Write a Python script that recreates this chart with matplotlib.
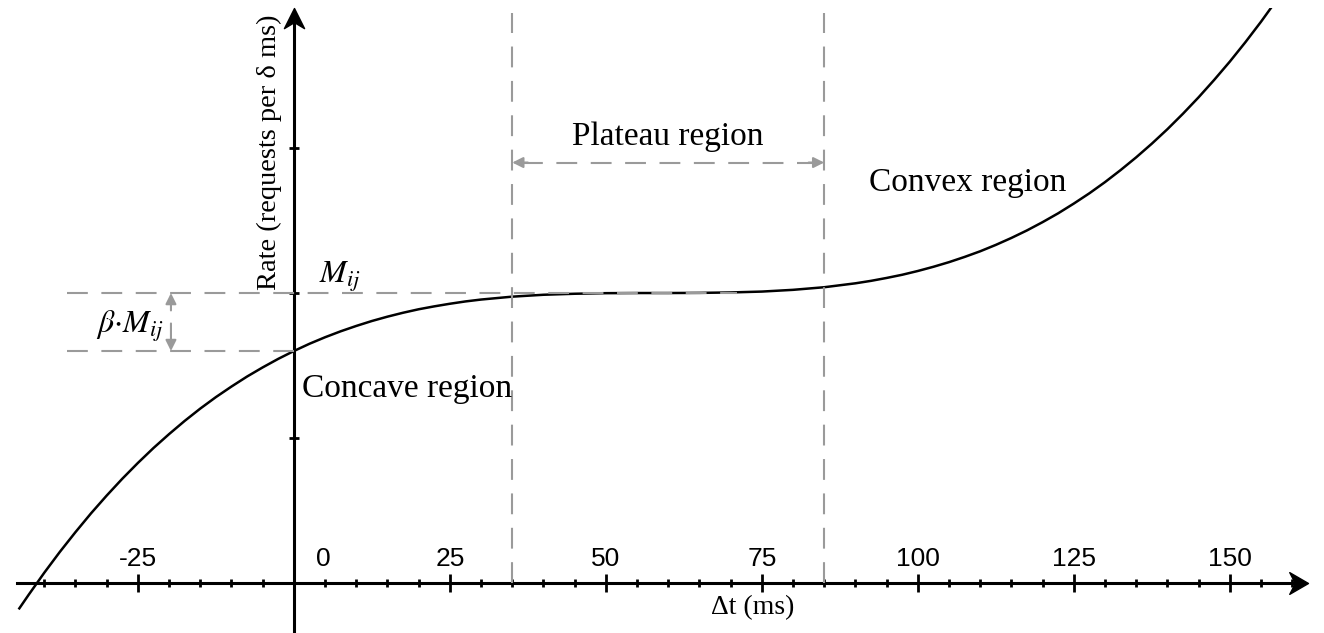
import matplotlib
matplotlib.use("Agg")
import matplotlib.pyplot as plt
from matplotlib.path import Path
from matplotlib.transforms import ScaledTranslation

plt.rcParams['font.family'] = ['Liberation Serif', 'DejaVu Serif']
plt.rcParams['mathtext.fontset'] = 'stix'

# curve (rate in y-tick units, M_ij = 2)
t_ms = [-44, -42.5, -40, -37.5, -35, -32.5, -30, -27.5, -25, -22.5, -20, -17.5, -15,
        -12.5, -10, -7.5, -5, -2.5, 0, 2.5, 5, 7.5, 10, 12.5, 15, 17.5, 20, 22.5, 25,
        27.5, 30, 35, 40, 45, 50, 55, 60, 65, 70, 75, 80, 85, 90, 92.5, 95, 97.5, 100,
        102.5, 105, 107.5, 110, 112.5, 115, 117.5, 120, 122.5, 125, 127.5, 130, 132.5,
        135, 137.5, 140, 142.5, 145, 147.5, 150, 152.5, 155, 158]
rate = [-0.175, -0.081, 0.071, 0.215, 0.351, 0.481, 0.603, 0.719, 0.828, 0.931, 1.027,
        1.118, 1.203, 1.282, 1.355, 1.424, 1.487, 1.546, 1.600, 1.650, 1.695, 1.736,
        1.773, 1.807, 1.837, 1.864, 1.888, 1.908, 1.926, 1.942, 1.955, 1.975, 1.988,
        1.995, 1.999, 2.000, 2.000, 2.001, 2.004, 2.010, 2.022, 2.040, 2.067, 2.084,
        2.104, 2.126, 2.152, 2.181, 2.213, 2.249, 2.288, 2.332, 2.380, 2.432, 2.489,
        2.550, 2.617, 2.688, 2.765, 2.848, 2.936, 3.030, 3.130, 3.237, 3.350, 3.470,
        3.596, 3.730, 3.871, 4.050]

x_major = [-25, 0, 25, 50, 75, 100, 125, 150]
x_labels = ['-25', '0', '25', '50', '75', '100', '125', '150']
x_minor = list(range(-40, 165, 5))
y_ticks = [1, 2, 3]

M_ij = 2.0
beta_M = 1.6          # M_ij - beta*M_ij
plateau = [35, 85]

gray = '#9a9a9a'
dash = (0, (10, 6.5))

fig = plt.figure(figsize=(13.24, 6.33), dpi=100)
ax = fig.add_axes([0, 0, 1, 625 / 633])
ax.set_xlim(-47.1, 165.1)
ax.set_ylim(-0.345, 3.966)

# axes through the origin
ax.spines['bottom'].set_position(('data', 0))
ax.spines['bottom'].set_bounds(-44.4, 161.5)
ax.spines['left'].set_position(('data', 0))
ax.spines['left'].set_bounds(-0.345, 3.9)
ax.spines['top'].set_position(('data', 0))
ax.spines['top'].set_visible(False)
ax.spines['right'].set_visible(False)
for s in ['bottom', 'left']:
    ax.spines[s].set_linewidth(2.2)

ax.set_xticks(x_major, x_labels)
ax.set_xticks(x_minor, minor=True)
ax.set_yticks(y_ticks)
ax.tick_params(axis='x', which='major', direction='inout', length=13, width=2,
               bottom=True, top=False, labelbottom=False, labeltop=True, pad=2,
               labelsize=19, labelfontfamily='Liberation Sans')
ax.tick_params(axis='x', which='minor', direction='inout', length=6, width=2,
               bottom=True, top=False)
ax.tick_params(axis='y', direction='inout', length=6.5, width=2, left=True,
               right=False, labelleft=False)
for lab in ax.get_xticklabels(which='major'):
    if lab.get_text() == '0':
        lab.set_transform(lab.get_transform() + ScaledTranslation(0.29, 0, fig.dpi_scale_trans))

# arrow heads (stealth shape)
head_x = Path([(0, 0), (-1, 0.58), (-0.7, 0), (-1, -0.58), (0, 0)],
              [Path.MOVETO, Path.LINETO, Path.LINETO, Path.LINETO, Path.CLOSEPOLY])
head_y = Path([(0, 0), (0.5, -1), (0, -0.7), (-0.5, -1), (0, 0)],
              [Path.MOVETO, Path.LINETO, Path.LINETO, Path.LINETO, Path.CLOSEPOLY])
ax.plot([162.5], [0], marker=head_x, ms=27, color='black', clip_on=False, zorder=5)
ax.plot([0], [3.966], marker=head_y, ms=29, color='black', clip_on=False, zorder=5)

# curve
ax.plot(t_ms, rate, color='black', lw=1.8, zorder=2, solid_joinstyle='round')

# guide lines
ax.plot([-36.3, 71], [M_ij, M_ij], color=gray, lw=1.5, ls=dash, zorder=3)
ax.plot([-36.3, 0], [beta_M, beta_M], color=gray, lw=1.5, ls=dash, zorder=3)
for p in plateau:
    ax.plot([p, p], [0, 3.93], color=gray, lw=1.5, ls=dash, zorder=3)

# plateau double arrow
ax.plot([plateau[0] + 1.5, plateau[1] - 1.5], [2.9, 2.9], color=gray, lw=1.5, ls=dash, zorder=3)
ap = dict(arrowstyle='-|>', color=gray, lw=1.5, mutation_scale=16, shrinkA=0, shrinkB=0)
ax.annotate('', xy=(plateau[0], 2.9), xytext=(plateau[0] + 2.5, 2.9), arrowprops=ap)
ax.annotate('', xy=(plateau[1], 2.9), xytext=(plateau[1] - 2.5, 2.9), arrowprops=ap)

# beta * M arrows
ax.annotate('', xy=(-19.7, M_ij), xytext=(-19.7, 1.88), arrowprops=ap)
ax.annotate('', xy=(-19.7, beta_M), xytext=(-19.7, 1.79), arrowprops=ap)

# text
ax.text(60, 3.08, 'Plateau region', fontsize=24, ha='center', va='center')
ax.text(108, 2.76, 'Convex region', fontsize=24, ha='center', va='center')
ax.text(18.2, 1.34, 'Concave region', fontsize=24, ha='center', va='center')
ax.text(7.4, 2.11, r'$M_{ij}$', fontsize=23, ha='center', va='center')
ax.text(-26.3, 1.77, r'$\beta{\cdot}M_{ij}$', fontsize=23, ha='center', va='center')
ax.text(73.6, -0.17, 'Δt (ms)', fontsize=20, ha='center', va='center')
ax.text(-3.9, 2.97, 'Rate (requests per δ ms)', fontsize=20.5, ha='center', va='center',
        rotation=90)

fig.savefig('out.png', dpi=100)
